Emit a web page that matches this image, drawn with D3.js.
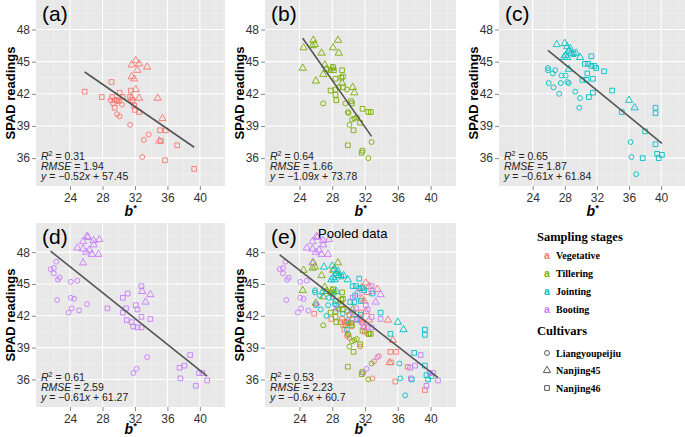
<!DOCTYPE html>
<html>
<head>
<meta charset="utf-8">
<script src="https://cdn.jsdelivr.net/npm/d3@7"></script>
<style>
  body { margin: 0; background: #fff; }
  svg { display: block; }
</style>
</head>
<body>
<svg id="chart" width="685" height="437"></svg>
<script>
// Stages and cultivars
const stages = ["Vegetative", "Tillering", "Jointing", "Booting"];
const stageColors = ["#F8766D", "#7CAE00", "#00BFC4", "#C77CFF"];
const cultivars = ["Liangyoupeijiu", "Nanjing45", "Nanjing46"];

const xTicks = [24, 28, 32, 36, 40];
const yTicks = [36, 39, 42, 45, 48];
const xMinor = [22, 26, 30, 34, 38, 42];
const yMinor = [34.5, 37.5, 40.5, 43.5, 46.5, 49.5];

// [b*, SPAD]
const vegLiang = [[29.0,41.4],[29.3,41.1],[29.8,40.1],[30.1,39.9],[30.4,41.0],[31.4,39.1],[33.7,38.2],[33.1,37.7],[32.9,36.1],[29.7,41.4]];
const vegNj45 = [[32.1,45.1],[31.6,44.7],[32.5,44.8],[32.3,44.2],[31.6,43.6],[31.9,43.4],[33.5,44.5],[32.1,42.4],[31.6,41.6],[32.5,41.6],[34.8,41.6],[35.4,39.7],[35.0,37.6]];
const vegNj46 = [[25.8,42.2],[27.9,41.7],[29.1,43.1],[29.2,41.7],[29.5,41.4],[29.8,41.4],[29.5,40.7],[30.0,41.3],[30.1,42.1],[31.5,42.3],[31.7,41.4],[31.9,40.9],[32.0,40.5],[32.5,40.3],[31.4,41.7],[35.1,38.6],[35.8,38.6],[35.2,37.6],[37.2,37.2],[35.7,35.8],[39.3,35.0],[30.5,41.7]];

const tilLiang = [[26.9,41.1],[29.8,42.4],[29.6,41.1],[29.9,40.3],[30.0,40.2],[30.4,39.6],[30.7,39.7],[30.1,39.1],[31.0,39.8],[32.8,37.5],[32.4,36.0],[28.8,42.6]];
const tilNj45 = [[25.7,47.0],[25.9,46.6],[25.6,46.5],[24.5,46.3],[26.7,45.8],[28.1,46.3],[28.7,47.0],[28.8,45.8],[24.4,44.4],[26.0,43.2],[27.1,44.7],[26.9,43.8],[27.3,44.3],[30.5,42.6],[30.7,42.1],[28.0,44.4],[29.2,43.0]];
const tilNj46 = [[28.1,44.5],[28.2,44.2],[27.8,44.2],[29.2,44.2],[29.1,43.5],[29.3,43.6],[28.4,43.4],[27.8,42.3],[28.4,42.4],[28.5,41.4],[28.4,41.9],[29.3,42.6],[30.3,41.3],[30.4,41.1],[30.6,38.6],[31.7,40.6],[32.4,40.3],[32.7,40.3],[29.9,37.2],[31.7,36.7],[31.6,36.5],[31.4,39.3]];

const joiLiang = [[25.9,44.4],[25.9,44.2],[26.8,44.2],[26.5,43.9],[26.0,43.0],[26.6,42.6],[27.3,42.0],[27.5,43.0],[27.6,43.7],[28.1,43.7],[28.3,43.1],[28.5,43.0],[29.3,42.2],[29.9,41.6],[29.8,40.7],[36.2,37.5],[36.3,36.1],[36.9,34.5]];
const joiNj45 = [[27.0,46.6],[28.0,46.7],[28.3,46.4],[28.5,46.0],[28.7,46.2],[28.8,45.8],[28.1,45.6],[27.9,45.4],[28.3,45.4],[29.4,45.8],[29.9,45.4],[28.5,44.3],[36.0,41.4],[36.7,40.7]];
const joiNj46 = [[29.1,45.7],[31.3,45.5],[30.5,44.8],[30.9,44.8],[31.3,44.6],[31.7,44.6],[31.9,44.4],[32.9,44.1],[30.8,43.9],[30.2,43.3],[30.7,43.3],[31.5,43.4],[31.0,41.7],[31.5,42.1],[33.9,42.3],[35.1,40.3],[39.3,40.7],[39.3,40.2],[38.0,38.5],[39.3,37.3],[37.7,36.0],[39.5,36.4],[39.7,36.0],[40.1,36.3]];

const booLiang = [[21.6,46.4],[22.3,47.1],[22.0,46.5],[22.0,46.0],[22.7,45.6],[22.5,45.4],[22.4,43.5],[24.1,45.2],[24.9,45.3],[24.1,43.7],[24.5,43.6],[24.2,42.7],[23.8,42.3],[25.1,42.5],[26.1,43.1],[31.8,36.6],[32.2,37.0],[33.5,38.1]];
const booNj45 = [[24.9,48.4],[25.6,49.0],[26.1,49.5],[26.2,49.4],[26.9,49.1],[27.6,49.2],[26.9,48.7],[25.6,48.3],[26.0,48.0],[26.4,48.2],[26.7,47.8],[27.5,47.8],[25.6,47.0],[32.9,44.3],[33.9,44.0],[33.3,43.3]];
const booNj46 = [[28.6,42.7],[30.5,43.7],[31.1,44.1],[32.8,44.8],[30.9,42.7],[30.5,42.3],[31.0,41.6],[31.6,41.4],[31.8,41.0],[32.1,43.0],[32.3,42.6],[32.3,40.9],[32.8,40.9],[32.8,41.9],[33.9,41.7],[37.5,37.1],[38.1,37.3],[37.6,36.1],[38.8,38.3],[39.9,36.6],[40.3,36.6],[39.5,35.4],[40.9,35.9]];

// fit stats per panel (a)..(e)
const panelLabels = ["(a)", "(b)", "(c)", "(d)", "(e)"];
const r2 = ["0.31", "0.64", "0.65", "0.61", "0.53"];
const rmse = ["1.94", "1.66", "1.87", "2.59", "2.23"];
const slopes = [-0.52, -1.09, -0.61, -0.61, -0.6];
const intercepts = [57.45, 73.78, 61.84, 61.27, 60.7];

const byStage = [
  [vegLiang, vegNj45, vegNj46],
  [tilLiang, tilNj45, tilNj46],
  [joiLiang, joiNj45, joiNj46],
  [booLiang, booNj45, booNj46]
];

function pointsFor(stageIdx) {
  const out = [];
  stageIdx.forEach(s => {
    byStage[s].forEach((arr, c) => {
      arr.forEach(d => out.push({ x: d[0], y: d[1], stage: s, cultivar: c }));
    });
  });
  return out;
}

// layout
const panels = [
  { x: 36,  y: 0,   w: 189, h: 186, stages: [0] },
  { x: 265, y: 0,   w: 191, h: 186, stages: [1] },
  { x: 499, y: 0,   w: 187, h: 186, stages: [2] },
  { x: 36,  y: 223, w: 189, h: 184, stages: [3] },
  { x: 265, y: 223, w: 191, h: 184, stages: [0, 1, 2, 3] }
];

const svg = d3.select("#chart");
const symbols = [d3.symbolCircle, d3.symbolTriangle, d3.symbolSquare];
const symSizes = [19, 23, 22];
const sans = "'Liberation Sans', Arial, sans-serif";
const serif = "'Liberation Serif', 'Times New Roman', serif";

panels.forEach((p, i) => {
  const x = d3.scaleLinear().domain([19.8, 43.1]).range([p.x, p.x + p.w]);
  const y = d3.scaleLinear().domain([33.4, 50.75]).range([p.y + p.h, p.y]);
  const g = svg.append("g");

  g.append("rect")
    .attr("x", p.x).attr("y", p.y)
    .attr("width", p.w).attr("height", p.h)
    .attr("fill", "#E8E8E8");

  // minor grid
  g.selectAll(".vmin").data(xMinor).enter().append("line")
    .attr("x1", d => x(d)).attr("x2", d => x(d))
    .attr("y1", p.y).attr("y2", p.y + p.h)
    .attr("stroke", "#F3F3F3").attr("stroke-width", 0.6);
  g.selectAll(".hmin").data(yMinor).enter().append("line")
    .attr("x1", p.x).attr("x2", p.x + p.w)
    .attr("y1", d => y(d)).attr("y2", d => y(d))
    .attr("stroke", "#F3F3F3").attr("stroke-width", 0.6);

  // major grid
  g.selectAll(".vmaj").data(xTicks).enter().append("line")
    .attr("x1", d => x(d)).attr("x2", d => x(d))
    .attr("y1", p.y).attr("y2", p.y + p.h)
    .attr("stroke", "#fff").attr("stroke-width", 1.1);
  g.selectAll(".hmaj").data(yTicks).enter().append("line")
    .attr("x1", p.x).attr("x2", p.x + p.w)
    .attr("y1", d => y(d)).attr("y2", d => y(d))
    .attr("stroke", "#fff").attr("stroke-width", 1.1);

  // axes
  const xAxis = d3.axisBottom(x).tickValues(xTicks).tickSize(4).tickPadding(3);
  const yAxis = d3.axisLeft(y).tickValues(yTicks).tickSize(4).tickPadding(2);
  const gx = g.append("g").attr("transform", `translate(0,${p.y + p.h})`).call(xAxis);
  const gy = g.append("g").attr("transform", `translate(${p.x},0)`).call(yAxis);
  [gx, gy].forEach(a => {
    a.select(".domain").remove();
    a.selectAll(".tick line").attr("stroke", "#888");
    a.selectAll(".tick text")
      .attr("fill", "#333")
      .style("font-family", sans)
      .style("font-size", "12px");
  });

  // points
  const pts = pointsFor(p.stages);
  g.selectAll(".pt").data(pts).enter().append("path")
    .attr("d", d => d3.symbol().type(symbols[d.cultivar]).size(symSizes[d.cultivar])())
    .attr("transform", d => `translate(${x(d.x)},${y(d.y)})`)
    .attr("fill", "none")
    .attr("stroke", d => stageColors[d.stage])
    .attr("stroke-width", 0.9);

  // regression line over the data range
  const ext = d3.extent(pts, d => d.x);
  g.append("line")
    .attr("x1", x(ext[0])).attr("y1", y(slopes[i] * ext[0] + intercepts[i]))
    .attr("x2", x(ext[1])).attr("y2", y(slopes[i] * ext[1] + intercepts[i]))
    .attr("stroke", "#555").attr("stroke-width", 1.6);

  // panel label
  g.append("text")
    .attr("x", p.x + 6).attr("y", p.y + 21)
    .style("font-family", sans).style("font-size", "21px")
    .text(panelLabels[i]);

  if (i === 4) {
    g.append("text")
      .attr("x", p.x + 53).attr("y", p.y + 15)
      .style("font-family", sans).style("font-size", "13px")
      .text("Pooled data");
  }

  // stats
  const tx = p.x + 5, base = p.y + p.h;
  const st = g.append("g").attr("fill", "#222")
    .style("font-family", sans).style("font-size", "10.5px");
  const t1 = st.append("text").attr("x", tx).attr("y", base - 26);
  t1.append("tspan").style("font-style", "italic").text("R");
  t1.append("tspan").attr("dy", -4).style("font-size", "7px").text("2");
  t1.append("tspan").attr("dy", 4).text(" = " + r2[i]);
  const t2 = st.append("text").attr("x", tx).attr("y", base - 16);
  t2.append("tspan").style("font-style", "italic").text("RMSE");
  t2.append("tspan").text(" = " + rmse[i]);
  const t3 = st.append("text").attr("x", tx).attr("y", base - 6);
  t3.append("tspan").style("font-style", "italic").text("y");
  t3.append("tspan").text(" = \u2212" + Math.abs(slopes[i]));
  t3.append("tspan").style("font-style", "italic").text("x");
  t3.append("tspan").text(" + " + intercepts[i]);

  // axis titles
  svg.append("text")
    .attr("transform", `translate(${p.x - 21},${p.y + p.h / 2}) rotate(-90)`)
    .attr("text-anchor", "middle")
    .style("font-family", sans).style("font-size", "13px").style("font-weight", "bold")
    .text("SPAD readings");

  const xl = svg.append("text")
    .attr("x", p.x + p.w / 2).attr("y", Math.min(base + 30, 434))
    .attr("text-anchor", "middle")
    .style("font-family", sans).style("font-size", "14px")
    .style("font-weight", "bold").style("font-style", "italic");
  xl.append("tspan").text("b");
  xl.append("tspan").attr("dy", -5).style("font-size", "9px").text("*");
});

// legend
const lg = svg.append("g").style("font-family", serif).style("font-weight", "bold");
const lx = 537;
lg.append("text").attr("x", lx).attr("y", 241).style("font-size", "12.5px").text("Sampling stages");
const stageY = [255, 273, 291, 309];
stages.forEach((s, k) => {
  lg.append("text").attr("x", lx + 10).attr("y", stageY[k] + 3.5)
    .attr("text-anchor", "middle")
    .style("font-family", sans).style("font-size", "10.5px")
    .attr("fill", stageColors[k]).text("a");
  lg.append("text").attr("x", lx + 19).attr("y", stageY[k] + 3.5)
    .style("font-size", "10px").text(s);
});
lg.append("text").attr("x", lx).attr("y", 335).style("font-size", "12.5px").text("Cultivars");
const cultY = [353, 370.5, 388];
cultivars.forEach((c, k) => {
  lg.append("path")
    .attr("d", d3.symbol().type(symbols[k]).size(symSizes[k])())
    .attr("transform", `translate(${lx + 10},${cultY[k]})`)
    .attr("fill", "none").attr("stroke", "#444").attr("stroke-width", 0.9);
  lg.append("text").attr("x", lx + 19).attr("y", cultY[k] + 3.5)
    .style("font-size", "10px").text(c);
});
</script>
</body>
</html>
